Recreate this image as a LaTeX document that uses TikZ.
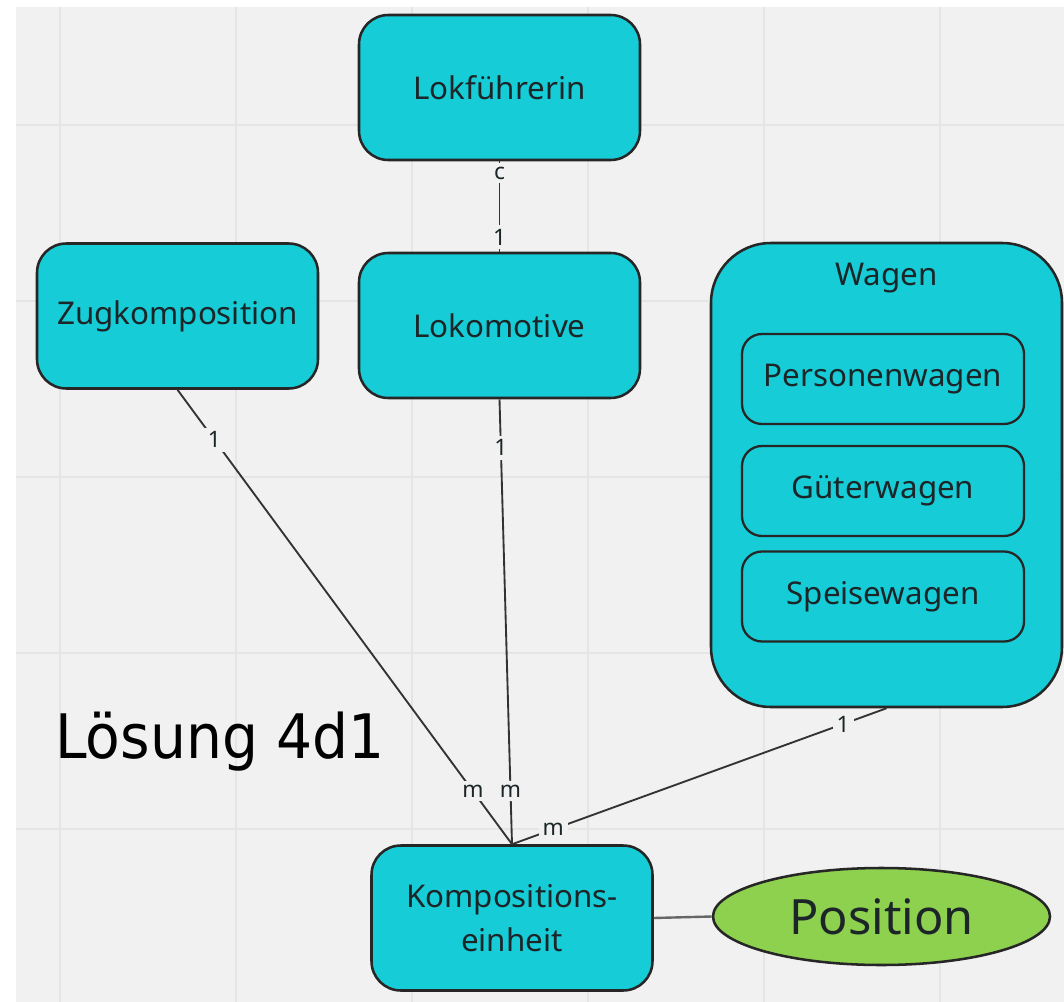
\documentclass[tikz,border=0pt]{standalone}
\usepackage{fontspec}
\setmainfont{Noto Sans}
\newfontfamily\titlefont{DejaVu Sans}
\usetikzlibrary{shapes.geometric}

\definecolor{bgcol}{HTML}{F1F1F1}
\definecolor{gridcol}{HTML}{E5E5E5}
\definecolor{boxcol}{HTML}{16CCD6}
\definecolor{edgecol}{HTML}{262626}
\definecolor{ovalcol}{HTML}{8ED14F}
\definecolor{linkcol}{HTML}{333333}
\definecolor{textcol}{HTML}{1C2528}

\tikzset{
  entity/.style={draw=edgecol, line width=1.9pt, fill=boxcol, rounded corners=22pt,
    text=textcol, font=\fontsize{23.5}{33}\selectfont, align=center,
    minimum width=210.75pt, minimum height=108.75pt, inner sep=0pt},
  subtype/.style={draw=edgecol, line width=1.7pt, fill=boxcol, rounded corners=15pt,
    text=textcol, font=\fontsize{23.5}{28}\selectfont,
    minimum width=211.5pt, minimum height=67.5pt, inner sep=0pt},
  attrib/.style={ellipse, draw=edgecol, line width=1.9pt, fill=ovalcol,
    text=textcol, font=\fontsize{36.5}{40}\selectfont,
    minimum width=252.75pt, minimum height=72.75pt, inner sep=0pt},
  link/.style={draw=linkcol, line width=1.4pt},
  lbl/.style={fill=bgcol, inner sep=3pt, text=textcol, font=\fontsize{17}{17}\selectfont},
}

\begin{document}
\begin{tikzpicture}[x=0.75pt,y=-0.75pt]
  \useasboundingbox (0,0) rectangle (1064,1002);
  % canvas with grid
  \fill[white] (0,0) rectangle (1064,1002);
  \fill[bgcol] (16,7) rectangle (1064,1002);
  \foreach \x in {60,236,412,588,764,940}
    \draw[gridcol, line width=1.1pt] (\x,7) -- (\x,1002);
  \foreach \y in {125,301,477,653,829}
    \draw[gridcol, line width=1.1pt] (16,\y) -- (1064,\y);

  % entities
  \node[entity] (lokf) at (499.5,87.5) {Lokführerin};
  \node[entity] (zug)  at (177.5,316) {Zugkomposition};
  \node[entity] (lok)  at (499.5,325.5) {Lokomotive};
  \node[entity] (komp) at (512,918) {Kompositions-\\einheit};

  % Wagen with its subtypes
  \node[draw=edgecol, line width=1.9pt, fill=boxcol, rounded corners=45pt,
        minimum width=263.25pt, minimum height=348pt, inner sep=0pt] (wagen) at (886.5,475) {};
  \node[text=textcol, font=\fontsize{23.5}{28}\selectfont] (wagentitle) at (886.5,278) {Wagen};
  \node[subtype] (pers)   at (883,379)   {Personenwagen};
  \node[subtype] (gueter) at (883,491)   {Güterwagen};
  \node[subtype] (speise) at (883,596.5) {Speisewagen};

  % attribute
  \node[attrib] (pos) at (881.5,916.5) {Position};

  % relationships
  \draw[link] (lokf.south) -- node[lbl, pos=0.13] {c} node[lbl, pos=0.84] {1} (lok.north);
  \draw[link] (zug.south)  -- node[lbl, pos=0.11] {1} node[lbl, pos=0.883] {m} (komp.north);
  \draw[link] (lok.south)  -- node[lbl, pos=0.109] {1} node[lbl, pos=0.88] {m} (komp.north);
  \draw[link] (wagen.south) -- node[lbl, pos=0.116] {1} node[lbl, pos=0.89] {m} (komp.north);
  \draw[draw=linkcol!75, line width=1.8pt] (komp.east) -- (pos.west);

  % caption
  \node[anchor=west, inner sep=0pt] (caption) at (55,742)
    {\scalebox{0.925}[1]{\titlefont\fontsize{46}{50}\selectfont Lösung 4d1}};
\end{tikzpicture}
\end{document}
